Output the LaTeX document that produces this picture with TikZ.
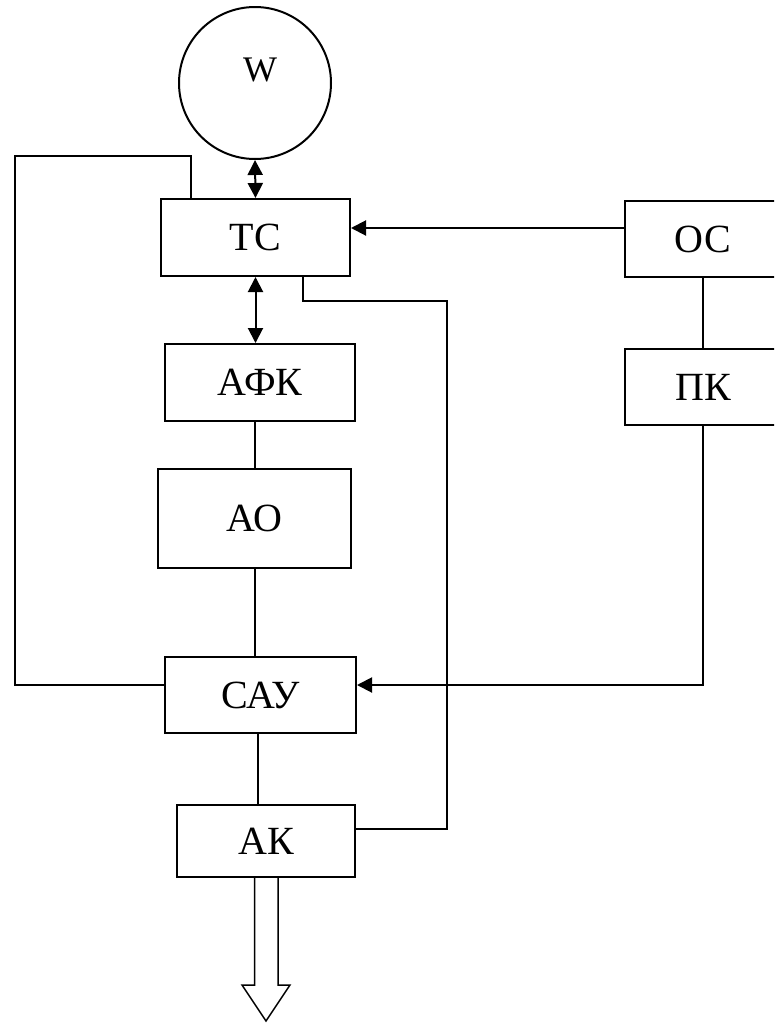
\documentclass[tikz,border=0pt]{standalone}
\usepackage{fontspec}
\setmainfont{Liberation Serif}
\usetikzlibrary{arrows.meta}
\begin{document}
\begin{tikzpicture}[x=1pt,y=1pt,
  line width=2pt,
  blk/.style={draw,rectangle,inner sep=0pt,font=\fontsize{40}{42}\selectfont},
  tri/.tip={Triangle[length=15pt,width=15pt]},
  conn/.style={line width=2pt}]
\useasboundingbox (0,0) rectangle (774,-1023);
\clip (0,0) rectangle (774,-1023);
% nodes
\node[draw,circle,minimum size=152pt,inner sep=0pt] (W) at (255,-83) {};
\node[font=\fontsize{36}{38}\selectfont] (Wt) at (260,-70) {W};
\node[blk,minimum width=189pt,minimum height=77pt] (TC) at (255.5,-237.5) {ТС};
\node[blk,minimum width=190pt,minimum height=77pt] (AFK) at (260,-382.5) {АФК};
\node[blk,minimum width=193pt,minimum height=99pt] (AO) at (254.5,-518.5) {\raisebox{-6pt}{АО}};
\node[blk,minimum width=191pt,minimum height=76pt] (CAY) at (260.5,-695) {САУ};
\node[blk,minimum width=178pt,minimum height=72pt] (AK) at (266,-841) {АК};
\node[blk,minimum width=156pt,minimum height=76pt] (OC) at (703,-239) {ОС};
\node[blk,minimum width=156pt,minimum height=76pt] (PK) at (703,-387) {ПК};
% connectors
\draw[conn,{tri}-{tri}] (W.south) -- (TC.north);
\draw[conn,{tri}-{tri}] (TC.south) -- (TC.south |- AFK.north);
\draw[conn] (AFK.south -| AO.north) -- (AO.north);
\draw[conn] (AO.south) -- (AO.south |- CAY.north);
\draw[conn] (CAY.south -| 258,0) -- (AK.north -| 258,0);
\draw[conn] (OC.south) -- (PK.north);
\draw[conn,-{tri}] (OC.west |- 0,-228) -- (TC.east |- 0,-228);
\draw[conn,-{tri}] (PK.south) |- (CAY.east |- 0,-685);
\draw[conn] (TC.north -| 191,0) |- (15,-156) |- (CAY.west |- 0,-685);
\draw[conn] (TC.south -| 303,0) |- (447,-301) |- (AK.east |- 0,-829);
% hollow output arrow
\coordinate (tip) at (266,-1021);
\draw[line width=1.5pt,fill=white] (AK.south -| 254.5,0) -- (254.5,-985) -- (242,-985) -- (tip) -- (290,-985) -- (278,-985) -- (AK.south -| 278,0);
\end{tikzpicture}
\end{document}
